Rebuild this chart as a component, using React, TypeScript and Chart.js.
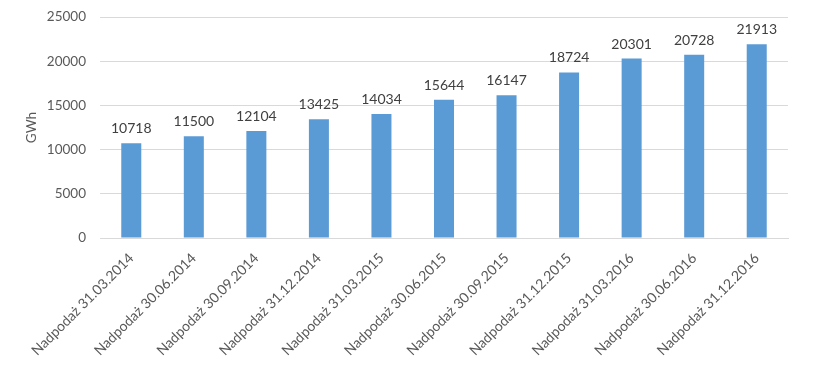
import React, { useEffect, useRef } from "react";
import { Chart, registerables } from "chart.js";

Chart.register(...registerables);

const categories = [
  "Nadpodaż 31.03.2014",
  "Nadpodaż 30.06.2014",
  "Nadpodaż 30.09.2014",
  "Nadpodaż 31.12.2014",
  "Nadpodaż 31.03.2015",
  "Nadpodaż 30.06.2015",
  "Nadpodaż 30.09.2015",
  "Nadpodaż 31.12.2015",
  "Nadpodaż 31.03.2016",
  "Nadpodaż 30.06.2016",
  "Nadpodaż 31.12.2016",
];
const values = [10718, 11500, 12104, 13425, 14034, 15644, 16147, 18724, 20301, 20728, 21913];
const yTicks = [0, 5000, 10000, 15000, 20000, 25000];
const yTitle = "GWh";

const FONT = "Lato, 'Open Sans', sans-serif";

const dataLabels = {
  id: "dataLabels",
  afterDatasetsDraw(chart: any) {
    const ctx = chart.ctx;
    const meta = chart.getDatasetMeta(0);
    ctx.save();
    ctx.font = `14px ${FONT}`;
    ctx.fillStyle = "#404040";
    ctx.textAlign = "center";
    ctx.textBaseline = "alphabetic";
    meta.data.forEach((bar: any, i: number) => {
      ctx.fillText(String(values[i]), bar.x, bar.y - 10);
    });
    ctx.restore();
  },
};

export default function App() {
  const ref = useRef<HTMLCanvasElement>(null);
  useEffect(() => {
    if (!ref.current) return;
    const chart = new Chart(ref.current, {
      type: "bar",
      data: {
        labels: categories,
        datasets: [
          {
            data: values,
            backgroundColor: "#5b9bd5",
            categoryPercentage: 1,
            barPercentage: 0.32,
          },
        ],
      },
      options: {
        animation: false,
        responsive: false,
        maintainAspectRatio: false,
        layout: { padding: { top: 17, right: 28, left: 24, bottom: 0 } },
        plugins: { legend: { display: false }, tooltip: { enabled: false } },
        scales: {
          x: {
            grid: { display: false, drawTicks: false },
            border: { display: true, color: "#d9d9d9" },
            ticks: {
              minRotation: 45,
              maxRotation: 45,
              autoSkip: false,
              padding: 12,
              color: "#595959",
              font: { family: FONT, size: 14 },
            },
            afterFit(scale: any) {
              scale.height = 140;
            },
          },
          y: {
            min: 0,
            max: 25000,
            afterBuildTicks(scale: any) {
              scale.ticks = yTicks.map((v) => ({ value: v }));
            },
            grid: { color: "#d9d9d9", drawTicks: false },
            border: { display: false },
            ticks: {
              padding: 14,
              color: "#595959",
              font: { family: FONT, size: 13.5 },
              callback: (v: any) => String(v),
            },
            title: {
              display: true,
              text: yTitle,
              color: "#595959",
              font: { family: FONT, size: 13.5 },
              padding: 0,
            },
            afterFit(scale: any) {
              scale.width = 76;
              scale.paddingTop = 0;
              scale.paddingBottom = 0;
            },
          },
        },
      },
      plugins: [dataLabels],
    });
    return () => chart.destroy();
  }, []);
  return (
    <div style={{ position: "absolute", left: 0, top: 0, width: 816, height: 378, background: "#fff" }}>
      <canvas ref={ref} width={816} height={378} style={{ width: 816, height: 378 }} />
    </div>
  );
}
